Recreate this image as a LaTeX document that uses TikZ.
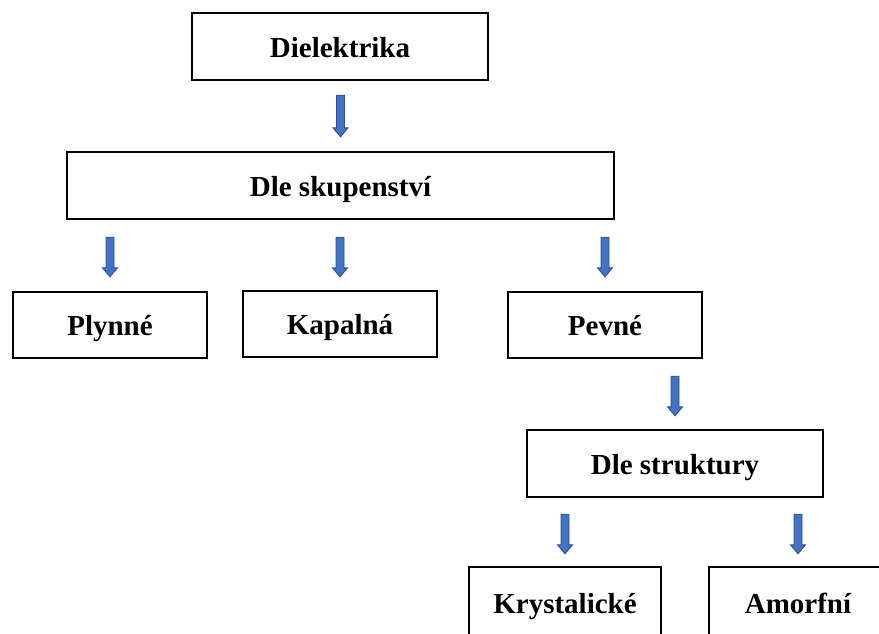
\documentclass[tikz,border=0pt]{standalone}
\usepackage{fontspec}
\setmainfont{Liberation Serif}
\usetikzlibrary{calc}
\definecolor{arrowfill}{HTML}{4472C4}
\definecolor{arrowline}{HTML}{2F528F}
\tikzset{
  box/.style={draw=black, line width=2.4pt, fill=white, inner sep=0pt,
    text height=27pt, text depth=6pt,
    font=\fontsize{29}{34}\selectfont\bfseries},
  arrowbody/.style={fill=arrowfill, draw=arrowline, line width=0.9pt, line join=miter}
}
% block arrow pointing down from #1 to #2, leaving gaps #3 (top) and #4 (bottom)
\newcommand\flowarrow[4]{%
  \draw[arrowbody] let \p1=([yshift=-#3]#1.south -| #2.north),
                       \p2=([yshift=#4]#2.north) in
    (\x1-4pt,\y1) -- (\x1+4pt,\y1) -- (\x1+4pt,\y2+9pt) -- (\x1+7.5pt,\y2+9pt)
    -- (\x1,\y2) -- (\x1-7.5pt,\y2+9pt) -- (\x1-4pt,\y2+9pt) -- cycle;}
\begin{document}
\begin{tikzpicture}[x=1pt,y=-1pt]
  \useasboundingbox (0,0) rectangle (879,633);
  \clip (0,0) rectangle (879,633);
  \node[box, minimum width=296pt, minimum height=67pt] (diel) at (340,46.5) {Dielektrika};
  \node[box, minimum width=547pt, minimum height=67pt] (skup) at (340.5,185.5) {Dle skupenství};
  \node[box, minimum width=194pt, minimum height=66pt] (plyn) at (110,325) {Plynné};
  \node[box, minimum width=194pt, minimum height=66pt] (kapal) at (340,324) {Kapalná};
  \node[box, minimum width=194pt, minimum height=66pt] (pevne) at (605,325) {Pevné};
  \node[box, minimum width=296pt, minimum height=67pt] (strukt) at (675,463.5) {Dle struktury};
  \node[box, minimum width=192pt, minimum height=72pt] (kryst) at (565,603) {Krystalické};
  \node[box, minimum width=178pt, minimum height=72pt] (amorf) at (798,603) {Amorfní};

  \flowarrow{diel}{skup}{14pt}{14pt}
  \flowarrow{skup}{plyn}{17pt}{14pt}
  \flowarrow{skup}{kapal}{17pt}{13pt}
  \flowarrow{skup}{pevne}{17pt}{14pt}
  \flowarrow{pevne}{strukt}{17pt}{13pt}
  \flowarrow{strukt}{kryst}{16pt}{12pt}
  \flowarrow{strukt}{amorf}{16pt}{12pt}
\end{tikzpicture}
\end{document}
